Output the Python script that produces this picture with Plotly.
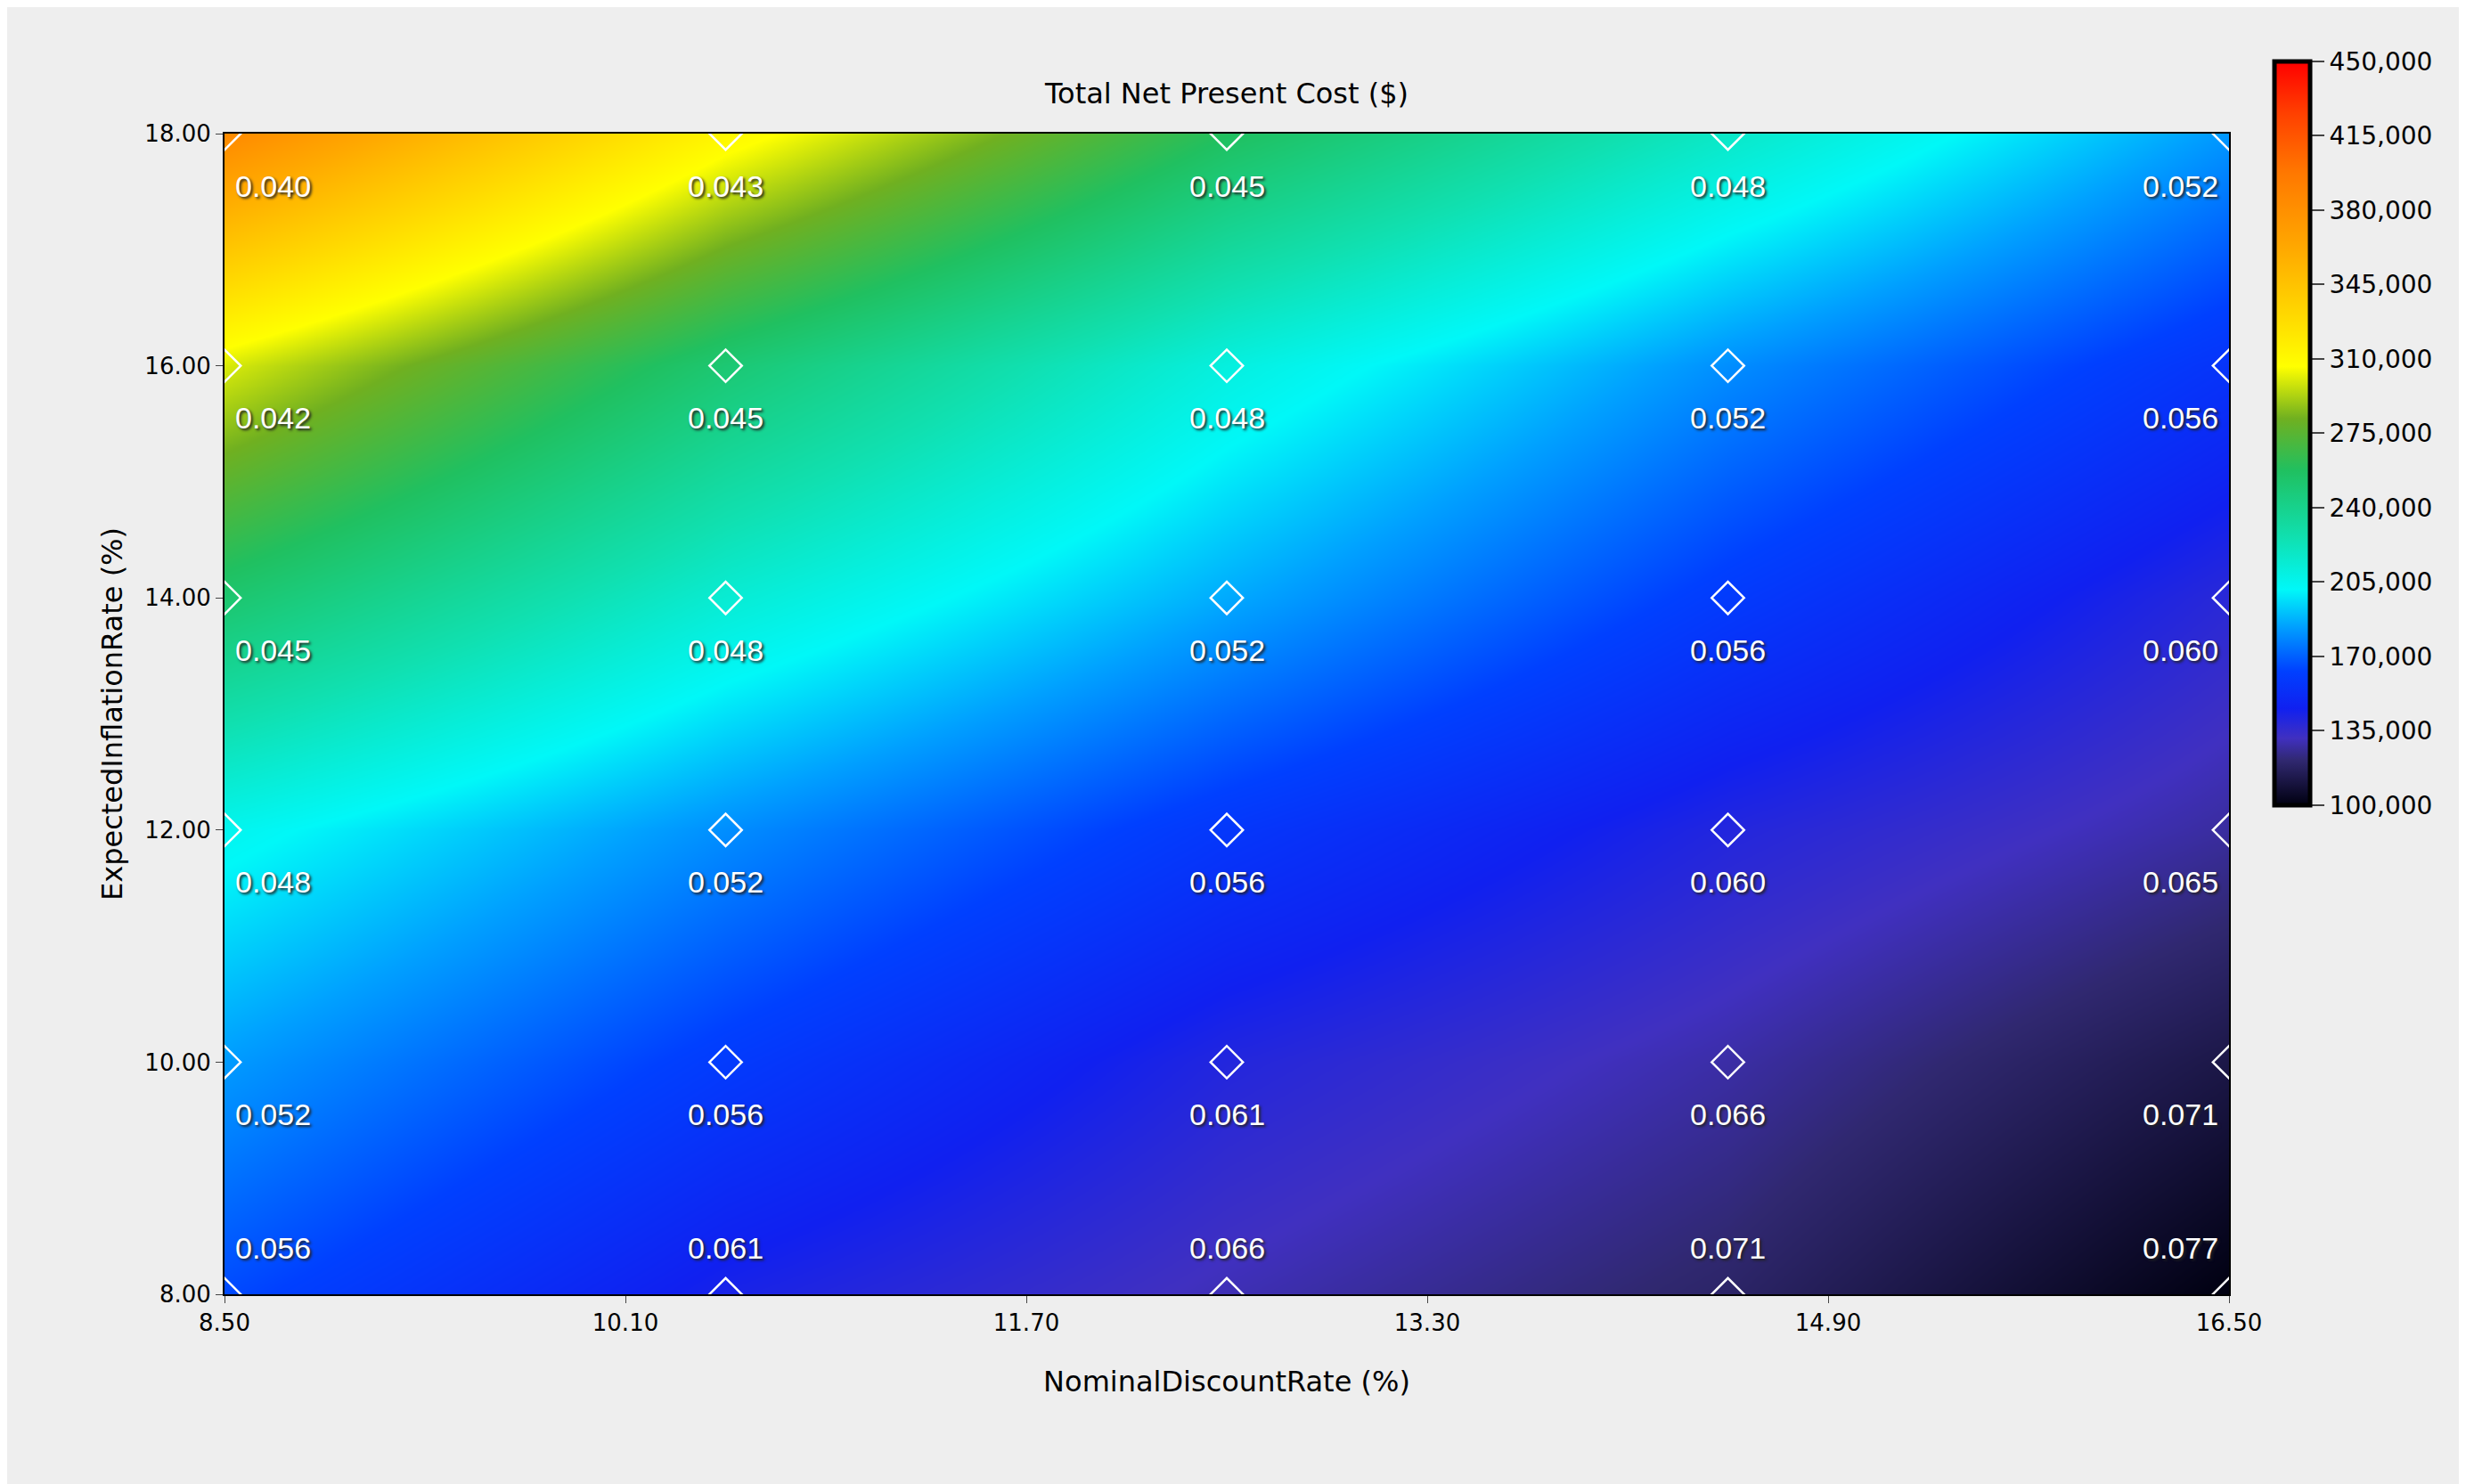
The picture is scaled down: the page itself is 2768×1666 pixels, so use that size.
import plotly.graph_objects as go

discount = [8.5, 10.5, 12.5, 14.5, 16.5]
inflation = [8, 10, 12, 14, 16, 18]

# total net present cost, rows = inflation, cols = discount
npc = [
    [165000, 143000, 130000, 119000, 100000],
    [183000, 160000, 140000, 128000, 112000],
    [205000, 180000, 158000, 140000, 127000],
    [252000, 214000, 186000, 160000, 138000],
    [300000, 250000, 210000, 180000, 156000],
    [385000, 312000, 258000, 218000, 182000],
]

# real discount rate labels
rate_labels = [
    ["0.056", "0.061", "0.066", "0.071", "0.077"],
    ["0.052", "0.056", "0.061", "0.066", "0.071"],
    ["0.048", "0.052", "0.056", "0.060", "0.065"],
    ["0.045", "0.048", "0.052", "0.056", "0.060"],
    ["0.042", "0.045", "0.048", "0.052", "0.056"],
    ["0.040", "0.043", "0.045", "0.048", "0.052"],
]

cscale = [
    [0.0, "#000010"], [0.06, "#302870"], [0.09, "#4030c0"], [0.13, "#1020f0"],
    [0.18, "#0040ff"], [0.24, "#00a0ff"], [0.29, "#00f8f8"], [0.36, "#10e0b0"],
    [0.45, "#20c060"], [0.52, "#70b020"], [0.59, "#ffff00"], [0.66, "#ffd800"],
    [0.75, "#ffa800"], [0.85, "#ff7800"], [0.93, "#ff4000"], [1.0, "#ff0000"],
]

fig = go.Figure()
fig.add_trace(go.Heatmap(
    x=discount, y=inflation, z=npc, zsmooth="best", zmin=100000, zmax=450000,
    colorscale=cscale,
    colorbar=dict(x=1.018, xanchor="left", y=1.07, yanchor="top", len=0.656,
                  thickness=40, tickvals=list(range(100000, 450001, 35000)),
                  tickformat=",", ticks="outside", ticklen=14, tickwidth=2,
                  outlinecolor="black", outlinewidth=5,
                  tickfont=dict(size=28, color="black")),
))

xs, ys = [], []
for i, yv in enumerate(inflation):
    for j, xv in enumerate(discount):
        xs.append(xv)
        ys.append(yv)
fig.add_trace(go.Scatter(x=xs, y=ys, mode="markers", cliponaxis=True,
                         marker=dict(symbol="diamond-open", size=28, color="white",
                                     line=dict(width=2.5)), hoverinfo="skip"))

for i, yv in enumerate(inflation):
    for j, xv in enumerate(discount):
        xa = "left" if j == 0 else ("right" if j == len(discount) - 1 else "center")
        ty = yv + 0.4 if i == 0 else yv - 0.45
        fig.add_annotation(x=xv, y=ty, text=rate_labels[i][j], showarrow=False,
                           xanchor=xa, xshift=10 if j == 0 else (-10 if xa == "right" else 0),
                           font=dict(size=34, color="white", family="Liberation Sans Narrow, Liberation Sans",
                                     shadow="2px 2px 3px #222"))

fig.update_layout(
    width=2768, height=1666, paper_bgcolor="#eeeeee", plot_bgcolor="#eeeeee",
    font=dict(family="DejaVu Sans", color="black"),
    margin=dict(l=244, r=274, t=142, b=221),
    title=dict(text="Total Net Present Cost ($)", x=0.5, xref="paper", y=0.935,
               yanchor="bottom", font=dict(size=32)),
    showlegend=False,
)
fig.update_xaxes(range=[8.5, 16.5], tickvals=[8.5, 10.1, 11.7, 13.3, 14.9, 16.5],
                 tickformat=".2f", ticks="outside", ticklen=8, showline=True,
                 linecolor="black", linewidth=2, mirror=True, showgrid=False, zeroline=False,
                 title=dict(text="NominalDiscountRate (%)", font=dict(size=32), standoff=40),
                 tickfont=dict(size=26))
fig.update_yaxes(range=[8, 18], tickvals=[8, 10, 12, 14, 16, 18],
                 tickformat=".2f", ticks="outside", ticklen=8, showline=True,
                 linecolor="black", linewidth=2, mirror=True, showgrid=False, zeroline=False,
                 title=dict(text="ExpectedInflationRate (%)", font=dict(size=32)),
                 tickfont=dict(size=26))

fig.write_html("out.html")
